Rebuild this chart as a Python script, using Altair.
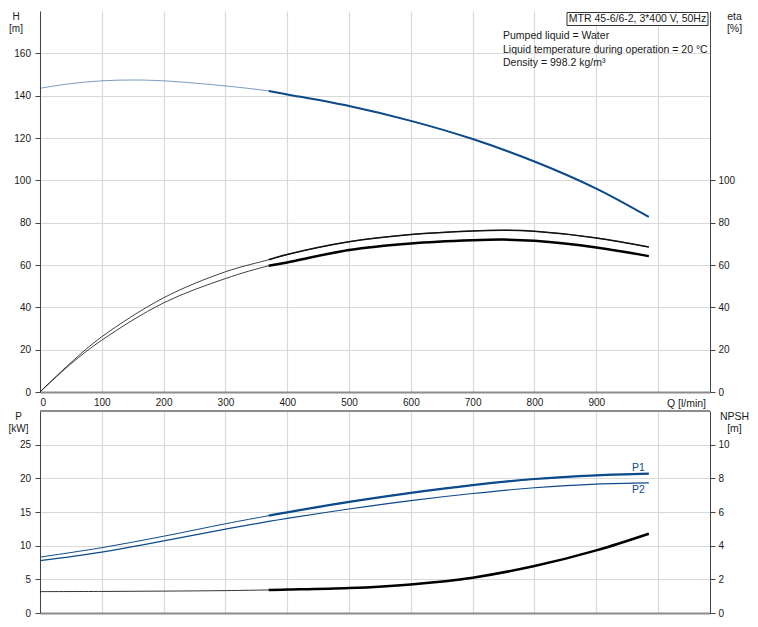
import altair as alt
import pandas as pd

# ---------------- data ----------------
# Head curve H [m]
q_h = [0, 50, 100, 150, 200, 300, 370, 400, 500, 600, 700, 800, 900, 985]
h_vals = [143.5, 145.7, 147.0, 147.4, 147.0, 144.6, 142.2, 140.6, 135.1, 128.1, 119.5, 108.9, 96.1, 82.7]

# Efficiency curves eta [%]
q_eta = [0, 50, 100, 200, 300, 370, 400, 500, 600, 700, 750, 800, 900, 985]
eta_upper = [0, 13.9, 26.1, 44.5, 56.8, 62.5, 65.0, 71.0, 74.4, 76.1, 76.4, 75.9, 72.8, 68.5]
eta_lower = [0, 13.3, 24.5, 42.1, 53.6, 59.6, 61.2, 67.1, 70.2, 71.7, 72.0, 71.4, 68.3, 64.2]

# Power curves P [kW]
q_p = [0, 100, 200, 300, 370, 400, 500, 600, 700, 800, 900, 985]
p1_vals = [8.3, 9.7, 11.4, 13.25, 14.45, 14.95, 16.5, 17.85, 19.0, 19.9, 20.45, 20.7]
p2_vals = [7.77, 9.05, 10.7, 12.45, 13.6, 14.05, 15.45, 16.7, 17.75, 18.6, 19.15, 19.33]

# NPSH [m]
q_npsh = [0, 100, 200, 300, 370, 400, 500, 600, 700, 800, 900, 985]
npsh_vals = [1.27, 1.28, 1.30, 1.33, 1.37, 1.39, 1.48, 1.70, 2.10, 2.79, 3.72, 4.71]

# operating range start (thick part of curves)
q_op_start = 370

# curve labels in lower panel
label_names = ["P1", "P2"]
label_q = [968, 968]
label_p = [21.6, 18.3]

x_ticks = list(range(0, 1001, 100))
h_ticks = list(range(0, 161, 20))
eta_ticks = list(range(0, 101, 20))
p_ticks = list(range(0, 26, 5))
npsh_ticks = list(range(0, 11, 2))

pump_title = "MTR 45-6/6-2, 3*400 V, 50Hz"
info_text = "Pumped liquid = Water\nLiquid temperature during operation = 20 °C\nDensity = 998.2 kg/m³"

# ---------------- helpers ----------------
FONT = "Liberation Sans"
BLUE = "#0d4a8a"
W = 670
H_TOP = 381
H_BOT = 202
X_DOMAIN = [0, 1084]


def frame(q, v):
    return pd.DataFrame({"q": q, "v": v})


def thick_part(q, v):
    return frame([a for a in q if a >= q_op_start], [b for a, b in zip(q, v) if a >= q_op_start])


def x_enc(top_panel):
    if top_panel:
        axis = alt.Axis(values=x_ticks, labelExpr="datum.value >= 1000 ? '' : datum.label",
                        title="Q [l/min]", titleX=646, titleY=11, titleAlign="center",
                        titleBaseline="middle", ticks=False, labelPadding=5,
                        domainColor="#8c8c8c", domainWidth=2, grid=True)
    else:
        axis = alt.Axis(values=x_ticks, labels=False, ticks=False, title=None,
                        domainColor="#8c8c8c", domainWidth=2, grid=True)
    return alt.X("q:Q", scale=alt.Scale(domain=X_DOMAIN, nice=False, zero=False), axis=axis)


def y_left(domain, ticks, title, tx, tsize):
    return alt.Y("v:Q", scale=alt.Scale(domain=domain, nice=False),
                 axis=alt.Axis(values=ticks, title=title, titleAngle=0, titleX=tx, titleY=0,
                               titleAlign="center", titleBaseline="top", titleLineHeight=12.5,
                               titleFontSize=tsize, tickSize=5, labelPadding=4.5, grid=True))


def y_right(domain, ticks, title):
    return alt.Y("v:Q", scale=alt.Scale(domain=domain, nice=False),
                 axis=alt.Axis(values=ticks, orient="right", title=title, titleAngle=0, titleX=24,
                               titleY=0, titleAlign="center", titleBaseline="top",
                               titleLineHeight=12.5, tickSize=5, labelPadding=3, grid=False))


def curve(df, top_panel, y, color, width, opacity=1.0):
    return alt.Chart(df).mark_line(color=color, strokeWidth=width, opacity=opacity,
                                   interpolate="catmull-rom").encode(x=x_enc(top_panel), y=y)


one = pd.DataFrame({"a": [0]})

# ---------------- top panel ----------------
yh = y_left([0, 180], h_ticks, ["H", "[m]"], -24.5, 10)
h_group = alt.layer(
    curve(frame(q_h, h_vals), True, yh, BLUE, 1, 0.55),
    curve(thick_part(q_h, h_vals), True, yh, BLUE, 2),
    alt.Chart(one).mark_rect(fill="white", stroke="#333333", strokeWidth=1).encode(
        x=alt.value(527), x2=alt.value(668), y=alt.value(1.5), y2=alt.value(14.5)),
    alt.Chart(one).mark_text(font=FONT, fontSize=10.5, color="#1a1a1a", align="center",
                             baseline="middle").encode(
        x=alt.value(597.5), y=alt.value(8), text=alt.value(pump_title)),
    alt.Chart(one).mark_text(font=FONT, fontSize=10.5, color="#1a1a1a", align="left",
                             baseline="middle", lineBreak="\n", lineHeight=13.6).encode(
        x=alt.value(463), y=alt.value(25), text=alt.value(info_text)),
)

ye = y_right([0, 180], eta_ticks, ["eta", "[%]"])
eta_group = alt.layer(
    curve(frame(q_eta, eta_upper), True, ye, "#111111", 1, 0.8),
    curve(thick_part(q_eta, eta_upper), True, ye, "#111111", 1.5),
    curve(frame(q_eta, eta_lower), True, ye, "#111111", 1, 0.8),
    curve(thick_part(q_eta, eta_lower), True, ye, "#000000", 2.5),
)

top = alt.layer(h_group, eta_group).resolve_scale(y="independent").properties(width=W, height=H_TOP)

# ---------------- bottom panel ----------------
yp = y_left([0, 30], p_ticks, ["P", "[kW]"], -22, 10)
labels_df = pd.DataFrame({"q": label_q, "v": label_p, "label": label_names})
p_group = alt.layer(
    curve(frame(q_p, p1_vals), False, yp, BLUE, 1),
    curve(thick_part(q_p, p1_vals), False, yp, BLUE, 2.2),
    curve(frame(q_p, p2_vals), False, yp, BLUE, 1.2),
    alt.Chart(labels_df).mark_text(font=FONT, fontSize=10.5, color=BLUE, align="center",
                                   baseline="middle").encode(x=x_enc(False), y=yp, text="label:N"),
    alt.Chart(one).mark_rule(color="#8c8c8c", strokeWidth=2).encode(
        x=alt.value(0), x2=alt.value(W), y=alt.value(0)),
)

yn = y_right([0, 12], npsh_ticks, ["NPSH", "[m]"])
npsh_group = alt.layer(
    curve(frame(q_npsh, npsh_vals), False, yn, "#111111", 1, 0.85),
    curve(thick_part(q_npsh, npsh_vals), False, yn, "#000000", 2.5),
)

bottom = alt.layer(p_group, npsh_group).resolve_scale(y="independent").properties(width=W, height=H_BOT)

chart = alt.vconcat(top, bottom, spacing=19, bounds="flush").properties(
    padding={"left": 0, "top": 3, "right": 0, "bottom": 0}
).configure_view(stroke=None).configure_axis(
    labelFont=FONT, labelFontSize=10, labelColor="#1a1a1a",
    titleFont=FONT, titleFontSize=10.5, titleFontWeight="normal", titleColor="#1a1a1a",
    gridColor="#d9d9d9", gridWidth=1.2, domainColor="#444444", domainWidth=1,
    tickColor="#444444",
)

chart.save("out.html", embed_options={"renderer": "svg", "actions": False})
